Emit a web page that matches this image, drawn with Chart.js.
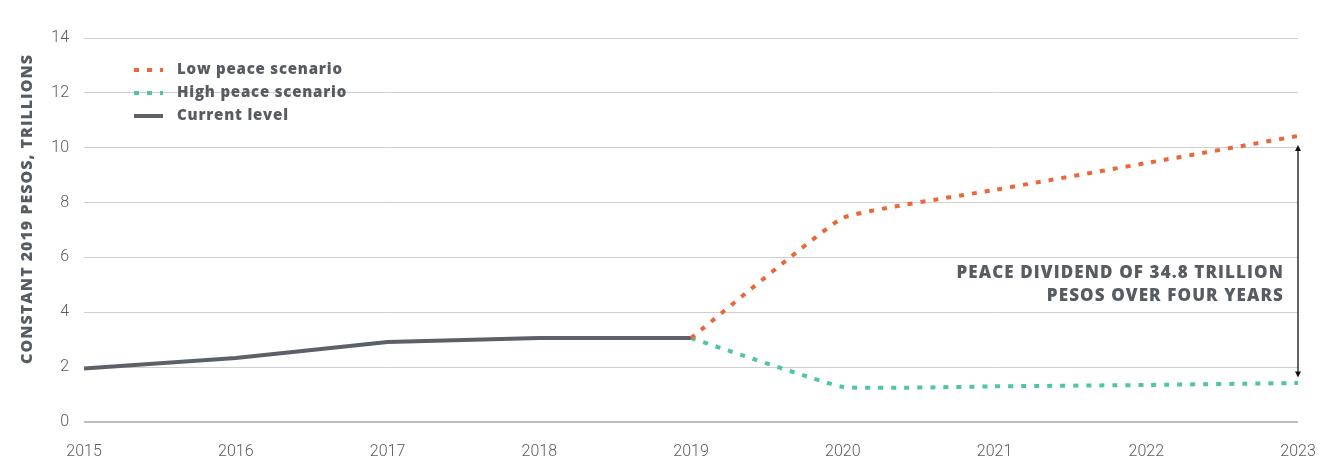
<!DOCTYPE html>
<html>
<head>
<meta charset="utf-8">
<script src="https://cdn.jsdelivr.net/npm/chart.js@4.4.0/dist/chart.umd.min.js"></script>
<style>
html,body{margin:0;padding:0;background:#fff;}
#wrap{width:1330px;height:459px;position:relative;}
</style>
</head>
<body>
<div id="wrap"><canvas id="c" width="1330" height="459"></canvas></div>
<script>
const years = ['2015','2016','2017','2018','2019','2020','2021','2022','2023'];
const currentLevel = [1.95, 2.33, 2.92, 3.06, 3.06, null, null, null, null];
const lowPeace = [null, null, null, null, 3.06, 7.44, 8.46, 9.44, 10.43];
const highPeace = [null, null, null, null, 3.06, 1.28, 1.30, 1.35, 1.42];
const yTicks = [0, 2, 4, 6, 8, 10, 12, 14];
const yTitle = 'CONSTANT 2019 PESOS, TRILLIONS';
const annotationLines = ['PEACE DIVIDEND OF 34.8 TRILLION', 'PESOS OVER FOUR YEARS'];

const TEXT = '#575c63';
const ORANGE = '#e8683a';
const TEAL = '#4fc4a8';
const GREY = '#5b6069';
const BOLD = '"Open Sans"';

function setSpacing(ctx, px) {
  if ('letterSpacing' in ctx) ctx.letterSpacing = px + 'px';
}

const legendPlugin = {
  id: 'customLegend',
  afterDraw(chart) {
    const ctx = chart.ctx;
    const items = [0, 1, 2].map(i => chart.data.datasets[i]);
    ctx.save();
    items.forEach((ds, i) => {
      const y = 70 + i * 23;
      ctx.beginPath();
      ctx.strokeStyle = ds.borderColor;
      ctx.lineWidth = 4;
      ctx.setLineDash(ds.borderDash || []);
      ctx.moveTo(134, y);
      ctx.lineTo(163, y);
      ctx.stroke();
      ctx.setLineDash([]);
      ctx.fillStyle = TEXT;
      ctx.font = '800 15px ' + BOLD;
      setSpacing(ctx, 0.8);
      ctx.textBaseline = 'middle';
      ctx.textAlign = 'left';
      ctx.fillText(ds.label, 177, y);
    });
    ctx.restore();

    // y-axis title
    const ys = chart.scales.y;
    ctx.save();
    ctx.translate(27, 209);
    ctx.rotate(-Math.PI / 2);
    ctx.fillStyle = TEXT;
    ctx.font = '800 16px ' + BOLD;
    setSpacing(ctx, 1);
    ctx.textAlign = 'center';
    ctx.textBaseline = 'middle';
    ctx.fillText(yTitle, 0, 0);
    ctx.restore();
  }
};

const annotationPlugin = {
  id: 'annotation',
  afterDraw(chart) {
    const ctx = chart.ctx;
    const xs = chart.scales.x, ys = chart.scales.y;
    const last = years.length - 1;
    const x = xs.getPixelForValue(last);
    const yTop = ys.getPixelForValue(lowPeace[last] - 0.33);
    const yBot = ys.getPixelForValue(highPeace[last] + 0.2);
    ctx.save();
    ctx.strokeStyle = '#111';
    ctx.fillStyle = '#111';
    ctx.lineWidth = 1.3;
    ctx.beginPath();
    ctx.moveTo(x, yTop + 3);
    ctx.lineTo(x, yBot - 3);
    ctx.stroke();
    ctx.beginPath();
    ctx.moveTo(x, yTop); ctx.lineTo(x - 3, yTop + 6); ctx.lineTo(x + 3, yTop + 6); ctx.closePath(); ctx.fill();
    ctx.beginPath();
    ctx.moveTo(x, yBot); ctx.lineTo(x - 3, yBot - 6); ctx.lineTo(x + 3, yBot - 6); ctx.closePath(); ctx.fill();
    ctx.fillStyle = TEXT;
    ctx.font = '800 17px ' + BOLD;
    setSpacing(ctx, 1.1);
    ctx.textAlign = 'right';
    ctx.textBaseline = 'middle';
    ctx.fillText(annotationLines[0], x - 14, ys.getPixelForValue(5.43));
    ctx.fillText(annotationLines[1], x - 14, ys.getPixelForValue(4.6));
    ctx.restore();
  }
};

new Chart(document.getElementById('c'), {
  type: 'line',
  data: {
    labels: years,
    datasets: [
      { label: 'Low peace scenario', data: lowPeace, borderColor: ORANGE, borderWidth: 4, borderDash: [5, 8], pointRadius: 0, tension: 0.1 },
      { label: 'High peace scenario', data: highPeace, borderColor: TEAL, borderWidth: 4, borderDash: [5, 8], pointRadius: 0, tension: 0.1 },
      { label: 'Current level', data: currentLevel, borderColor: GREY, borderWidth: 4, pointRadius: 0, tension: 0 }
    ]
  },
  options: {
    responsive: false,
    animation: false,
    layout: { padding: { top: 38, right: 32, left: 0, bottom: 0 } },
    plugins: { legend: { display: false }, tooltip: { enabled: false } },
    scales: {
      x: {
        offset: false,
        grid: { display: false, drawTicks: false },
        border: { display: false },
        ticks: { color: TEXT, font: { family: 'Roboto', size: 16, weight: '300' }, padding: 20, maxRotation: 0, autoSkip: false },
        afterFit(s) { s.height = 37; s.paddingLeft = 0; s.paddingRight = 0; }
      },
      y: {
        min: 0, max: 14,
        afterBuildTicks(s) { s.ticks = yTicks.map(v => ({ value: v })); },
        grid: {
          drawTicks: false,
          color: ctx => ctx.tick && ctx.tick.value === 0 ? '#bdbdbd' : '#d0d0d0',
          lineWidth: ctx => ctx.tick && ctx.tick.value === 0 ? 2 : 1
        },
        border: { display: false },
        ticks: { color: TEXT, font: { family: 'Roboto', size: 16, weight: '300' }, padding: 15 },
        title: { display: false, text: yTitle },
        afterFit(s) { s.width = 84; s.paddingTop = 0; s.paddingBottom = 0; }
      }
    }
  },
  plugins: [legendPlugin, annotationPlugin]
});
</script>
</body>
</html>
